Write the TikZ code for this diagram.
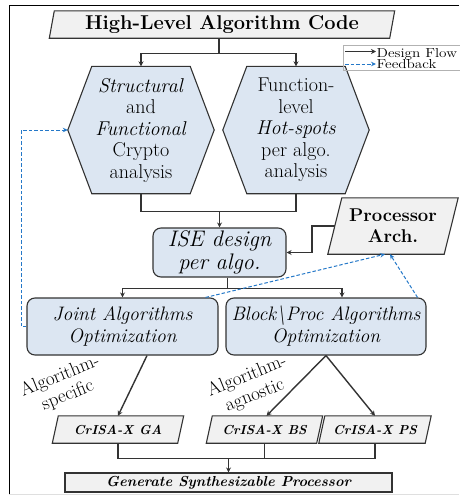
\documentclass[tikz,border=0pt]{standalone}
\usepackage{graphicx}
\usetikzlibrary{arrows.meta}

\pgfdeclarelayer{shapes}
\pgfsetlayers{shapes,main}

\definecolor{boxblue}{HTML}{DCE6F2}
\definecolor{boxgray}{HTML}{F1F1F1}
\definecolor{inkgray}{HTML}{333333}
\definecolor{fbblue}{HTML}{2478C8}

% outline of a slanted box (parallelogram) built on a plain node
\newcommand\slantpath[2]{([xshift=#2]#1.north west) -- ([xshift=#2]#1.north east) -- ([xshift=-#2]#1.south east) -- ([xshift=-#2]#1.south west) -- cycle}
% outline of a flat-topped hexagon built on a plain node
\newcommand\hexpath[2]{([xshift=#2]#1.north west) -- ([xshift=-#2]#1.north east) -- (#1.east) -- ([xshift=-#2]#1.south east) -- ([xshift=#2]#1.south west) -- (#1.west) -- cycle}
% wide legend lettering
\newcommand\widetext[1]{\scalebox{1.17}[1]{#1}}

\tikzset{
  outline/.style={draw=inkgray, line width=1.1pt},
  flowline/.style={draw=inkgray, line width=1.4pt},
  flow/.style={flowline, -{Stealth[length=5pt,width=5pt]}},
  feedback/.style={draw=fbblue, line width=1pt, dash pattern=on 3.5pt off 2pt, -{Stealth[length=5pt,width=4.5pt]}},
  roundbox/.style={outline, fill=boxblue, rounded corners=8pt, inner sep=0pt, align=center},
  slot/.style={inner sep=0pt, align=center},
  hexslot/.style={slot, minimum width=146pt, minimum height=127pt, font=\fontsize{20}{21.5}\selectfont},
  isaslot/.style={slot, minimum height=27pt, font=\fontsize{13}{15}\selectfont\bfseries\itshape},
  tilted/.style={slot, rotate=22, font=\fontsize{19}{20.5}\selectfont},
  legendtext/.style={inner sep=0pt, anchor=base west, font=\fontsize{13}{13}\selectfont},
}

\begin{document}
\begin{tikzpicture}[x=1pt,y=-1pt]
\useasboundingbox (0,0) rectangle (459,498);

% page frame
\draw[black, line width=0.8pt] (459,5) -- (9,5) -- (9,494);
\draw[gray!25, line width=0.6pt] (9,494) -- (459,494);

% nodes
\node[slot, minimum width=340pt, minimum height=27pt, font=\fontsize{20}{22}\selectfont\bfseries] (code) at (222,24.5) {High-Level Algorithm Code};

\node[hexslot] (hexA) at (141,130) {\textit{Structural}\\and\\\textit{Functional}\\Crypto\\analysis};
\node[hexslot] (hexB) at (296,130) {Function-\\level\\\textit{Hot-spots}\\per algo.\\analysis};

\node[roundbox, minimum width=133pt, minimum height=49pt, font=\fontsize{22.5}{23}\selectfont\itshape] (ise) at (219.5,252.5) {ISE design\\per algo.};

\node[slot, minimum width=116pt, minimum height=56pt, font=\fontsize{18.5}{21}\selectfont\bfseries] (arch) at (393,226) {Processor\\Arch.};

\node[roundbox, minimum width=191pt, minimum height=57pt, font=\fontsize{19.5}{22}\selectfont\itshape] (joint) at (122.5,326.5) {Joint Algorithms\\Optimization};
\node[roundbox, minimum width=200pt, minimum height=57pt, font=\fontsize{19.5}{22}\selectfont\itshape] (block) at (326,326.5) {Block\textbackslash Proc Algorithms\\Optimization};

\node[tilted] (lblspec) at (64,386) {Algorithm-\\specific};
\node[tilted] (lblagn) at (251,386) {Algorithm-\\agnostic};

\node[isaslot, minimum width=125pt] (ga) at (118,429.5) {CrISA-X GA};
\node[isaslot, minimum width=110pt] (bs) at (264.5,429.5) {CrISA-X BS};
\node[isaslot, minimum width=106pt] (ps) at (375,429.5) {CrISA-X PS};

\node[outline, fill=boxgray, minimum width=327pt, minimum height=19pt, inner sep=0pt, font=\fontsize{14.5}{15}\selectfont\bfseries\itshape] (gen) at (228.5,482.5) {Generate Synthesizable Processor};

% legend
\node[draw=gray!60, line width=0.6pt, minimum width=118pt, minimum height=25pt, inner sep=0pt] (legend) at (402,57.5) {};
\coordinate (lgflowA) at (345,51.5);
\coordinate (lgflowB) at (376,51.5);
\coordinate (lgfbA) at (345,64);
\coordinate (lgfbB) at (376,64);
\draw[flow, line width=1pt] (lgflowA) -- (lgflowB);
\draw[feedback] (lgfbA) -- (lgfbB);
\node[legendtext] (lgflow) at (376.5,57) {\widetext{Design Flow}};
\node[legendtext] (lgfb) at (376.5,68) {\widetext{Feedback}};

% hand-drawn outlines behind the text
\begin{pgfonlayer}{shapes}
  \draw[outline, fill=boxgray] \slantpath{code}{2.5pt};
  \draw[outline, fill=boxblue] \hexpath{hexA}{24pt};
  \draw[outline, fill=boxblue] \hexpath{hexB}{24pt};
  \draw[outline, fill=boxgray] \slantpath{arch}{7pt};
  \draw[outline, fill=boxgray] \slantpath{ga}{3pt};
  \draw[outline, fill=boxgray] \slantpath{bs}{3pt};
  \draw[outline, fill=boxgray] \slantpath{ps}{3pt};
\end{pgfonlayer}

% design flow
\draw[flowline] ([xshift=-3pt]code.south) -- ++(0,15) coordinate (splitTop);
\draw[flow] (splitTop) -| (hexA.north);
\draw[flow] (splitTop) -| (hexB.north);

\draw[flowline] (hexA.south) -- ++(0,18) coordinate (mergeHex) -| (hexB.south);
\draw[flow] (mergeHex -| ise.north) -- (ise.north);

\draw[flow] (arch.west) -- ++(-23,0) |- (ise.east);

\draw[flowline] ([xshift=8pt]ise.south) -- ++(0,11) coordinate (splitOpt);
\draw[flow] (splitOpt) -| (joint.north);
\draw[flow] (splitOpt) -| ([xshift=16pt]block.north);

\draw[flow] ([xshift=24.5pt]joint.south) -- (ga.north);
\draw[flow] (block.south) -- ([xshift=2pt]bs.north);
\draw[flow] (block.south) -- (ps.north);

\draw[flowline] (ga.south) -- ++(0,15) coordinate (mergeIsa) -| (ps.south);
\draw[flowline] (bs.south) -- (bs.south |- mergeIsa);
\draw[flow] (mergeIsa -| gen.north) -- (gen.north);

% feedback
\draw[feedback] ([xshift=-13pt]joint.north east) -- ([xshift=-8pt]arch.south);
\draw[feedback] ([xshift=-9pt]block.north east) -- ([xshift=-3pt]arch.south);
\draw[feedback] (joint.west) -- ++(-5,0) |- (hexA.west);
\end{tikzpicture}
\end{document}
